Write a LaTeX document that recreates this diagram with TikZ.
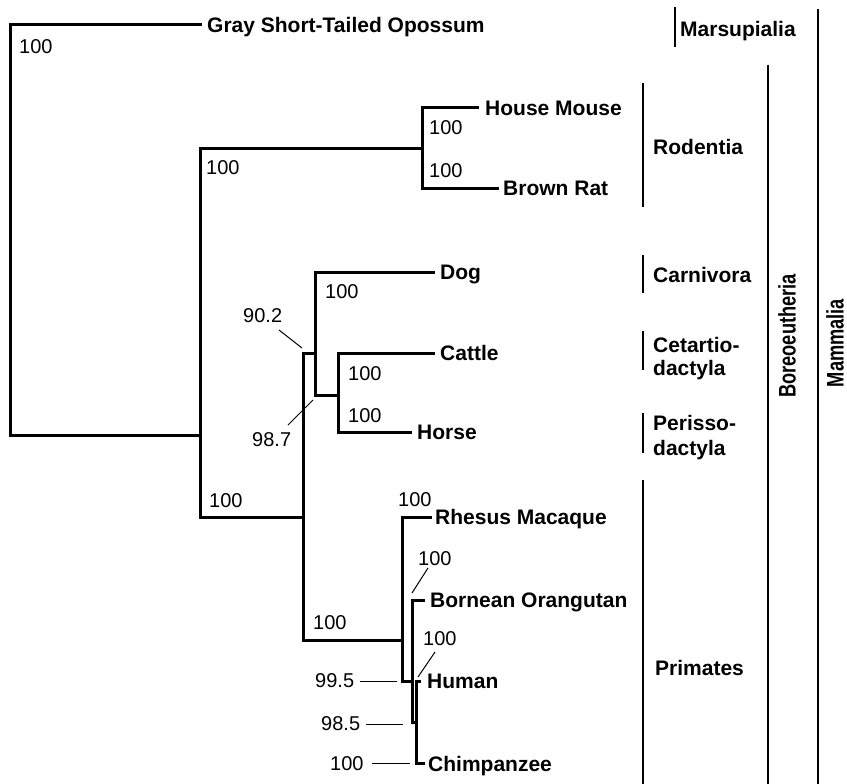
\documentclass[tikz,border=0pt]{standalone}
\usepackage{fontspec}
\setmainfont{Liberation Sans}
\begin{document}
\begin{tikzpicture}[x=1pt,y=-1pt,
  tree/.style={line width=3pt,line join=miter,line cap=rect},
  bar/.style={line width=2pt},
  lead/.style={line width=1pt},
  taxon/.style={anchor=base west,inner sep=0pt,font=\fontsize{21}{23}\selectfont\bfseries},
  boot/.style={anchor=base west,inner sep=0pt,font=\fontsize{20}{22}\selectfont},
  clade/.style={anchor=base west,inner sep=0pt,font=\fontsize{21}{23}\selectfont\bfseries},
  vclade/.style={anchor=center,inner sep=0pt,rotate=90,font=\fontsize{24}{26}\selectfont\bfseries}]
\useasboundingbox (0,0) rectangle (847,784);
% internal node coordinates
\coordinate (root) at (10,435);
\coordinate (opT) at (200,25);
\coordinate (bor) at (200,435);
\coordinate (rodIn) at (200,148);
\coordinate (rod) at (422,148);
\coordinate (lowIn) at (200,517);
\coordinate (low) at (303,517);
\coordinate (mouT) at (477,108);
\coordinate (ratT) at (497,188);
\coordinate (laurIn) at (303,353);
\coordinate (laur) at (315,353);
\coordinate (dogT) at (433,272);
\coordinate (cetIn) at (315,395);
\coordinate (cet) at (338,395);
\coordinate (catT) at (433,353);
\coordinate (horT) at (410,432);
\coordinate (priIn) at (303,640);
\coordinate (pri) at (402,640);
\coordinate (rheT) at (430,517);
\coordinate (apeIn) at (402,681);
\coordinate (ape) at (412,681);
\coordinate (oraT) at (423,600);
\coordinate (hcIn) at (412,722);
\coordinate (hc) at (416,722);
\coordinate (humT) at (419,681);
\coordinate (chiT) at (423,763);
% tree
\draw[tree] (opT) -- (10,25) -- (root) -- (bor);
\draw[tree] (rod) -- (rodIn) -- (lowIn) -- (low);
\draw[tree] (mouT) -- (422,108) -- (422,188) -- (ratT);
\draw[tree] (laur) -- (laurIn) -- (priIn) -- (pri);
\draw[tree] (dogT) -- (315,272) -- (cetIn) -- (cet);
\draw[tree] (catT) -- (338,353) -- (338,432) -- (horT);
\draw[tree] (rheT) -- (402,517) -- (apeIn) -- (ape);
\draw[tree] (oraT) -- (412,600) -- (hcIn) -- (hc);
\draw[tree] (humT) -- (416,681) -- (416,763) -- (chiT);
% taxa
\node[taxon] (op) at (207,32.5) {Gray Short-Tailed Opossum};
\node[taxon] (mou) at (485,115.5) {House Mouse};
\node[taxon] (rat) at (503,195.5) {Brown Rat};
\node[taxon] (dog) at (440,279.5) {Dog};
\node[taxon] (cat) at (440,360.5) {Cattle};
\node[taxon] (hor) at (417,439.5) {Horse};
\node[taxon] (rhe) at (435,524.5) {Rhesus Macaque};
\node[taxon] (ora) at (430,607.5) {Bornean Orangutan};
\node[taxon] (hum) at (427,688.5) {Human};
\node[taxon] (chi) at (428,771.5) {Chimpanzee};
% bootstrap values
\node[boot] (b1) at (19,54) {100};
\node[boot] (b2) at (206,175) {100};
\node[boot] (b3) at (429,135) {100};
\node[boot] (b4) at (429,177) {100};
\node[boot] (b5) at (325,298) {100};
\node[boot] (b6) at (243,322) {90.2};
\node[boot] (b7) at (348,380) {100};
\node[boot] (b8) at (348,422) {100};
\node[boot] (b9) at (252,446) {98.7};
\node[boot] (b10) at (209,507) {100};
\node[boot] (b11) at (398,506) {100};
\node[boot] (b12) at (418,565) {100};
\node[boot] (b13) at (313,629) {100};
\node[boot] (b14) at (423,645) {100};
\node[boot] (b15) at (315,687) {99.5};
\node[boot] (b16) at (321,730) {98.5};
\node[boot] (b17) at (330,770) {100};
% leader lines
\coordinate (l6a) at (279,330); \coordinate (l6b) at (302,348);
\coordinate (l9a) at (288,425); \coordinate (l9b) at (313,400);
\coordinate (l12a) at (428,568); \coordinate (l12b) at (412,593);
\coordinate (l14a) at (435,652); \coordinate (l14b) at (418,677);
\coordinate (l15a) at (360,681); \coordinate (l15b) at (397,681);
\coordinate (l16a) at (366,724); \coordinate (l16b) at (403,724);
\coordinate (l17a) at (372,763); \coordinate (l17b) at (410,763);
\draw[lead] (l6a) -- (l6b);
\draw[lead] (l9a) -- (l9b);
\draw[lead] (l12a) -- (l12b);
\draw[lead] (l14a) -- (l14b);
\draw[lead] (l15a) -- (l15b);
\draw[lead] (l16a) -- (l16b);
\draw[lead] (l17a) -- (l17b);
% clade bars
\coordinate (mar1) at (675,7); \coordinate (mar2) at (675,47);
\coordinate (rodb1) at (643,83); \coordinate (rodb2) at (643,207);
\coordinate (car1) at (643,255); \coordinate (car2) at (643,293);
\coordinate (cet1) at (643,331); \coordinate (cet2) at (643,370);
\coordinate (per1) at (643,413); \coordinate (per2) at (643,453);
\coordinate (prib1) at (643,480); \coordinate (prib2) at (643,784);
\coordinate (bor1) at (768,65); \coordinate (bor2) at (768,784);
\coordinate (mam1) at (818,9); \coordinate (mam2) at (818,784);
\draw[bar] (mar1) -- (mar2);
\draw[bar] (rodb1) -- (rodb2);
\draw[bar] (car1) -- (car2);
\draw[bar] (cet1) -- (cet2);
\draw[bar] (per1) -- (per2);
\draw[bar] (prib1) -- (prib2);
\draw[bar] (bor1) -- (bor2);
\draw[bar] (mam1) -- (mam2);
\node[clade] (cMar) at (680,36.5) {Marsupialia};
\node[clade] (cRod) at (653,154.5) {Rodentia};
\node[clade] (cCar) at (653,282.5) {Carnivora};
\node[clade] (cCetA) at (653,352.5) {Cetartio-};
\node[clade] (cCetB) at (653,375.5) {dactyla};
\node[clade] (cPerA) at (653,430.5) {Perisso-};
\node[clade] (cPerB) at (653,455.5) {dactyla};
\node[clade] (cPri) at (655,675.5) {Primates};
\node[vclade] (cBor) at (787,336) {\scalebox{0.76}[1]{Boreoeutheria}};
\node[vclade] (cMam) at (835,343) {\scalebox{0.76}[1]{Mammalia}};
\end{tikzpicture}
\end{document}
